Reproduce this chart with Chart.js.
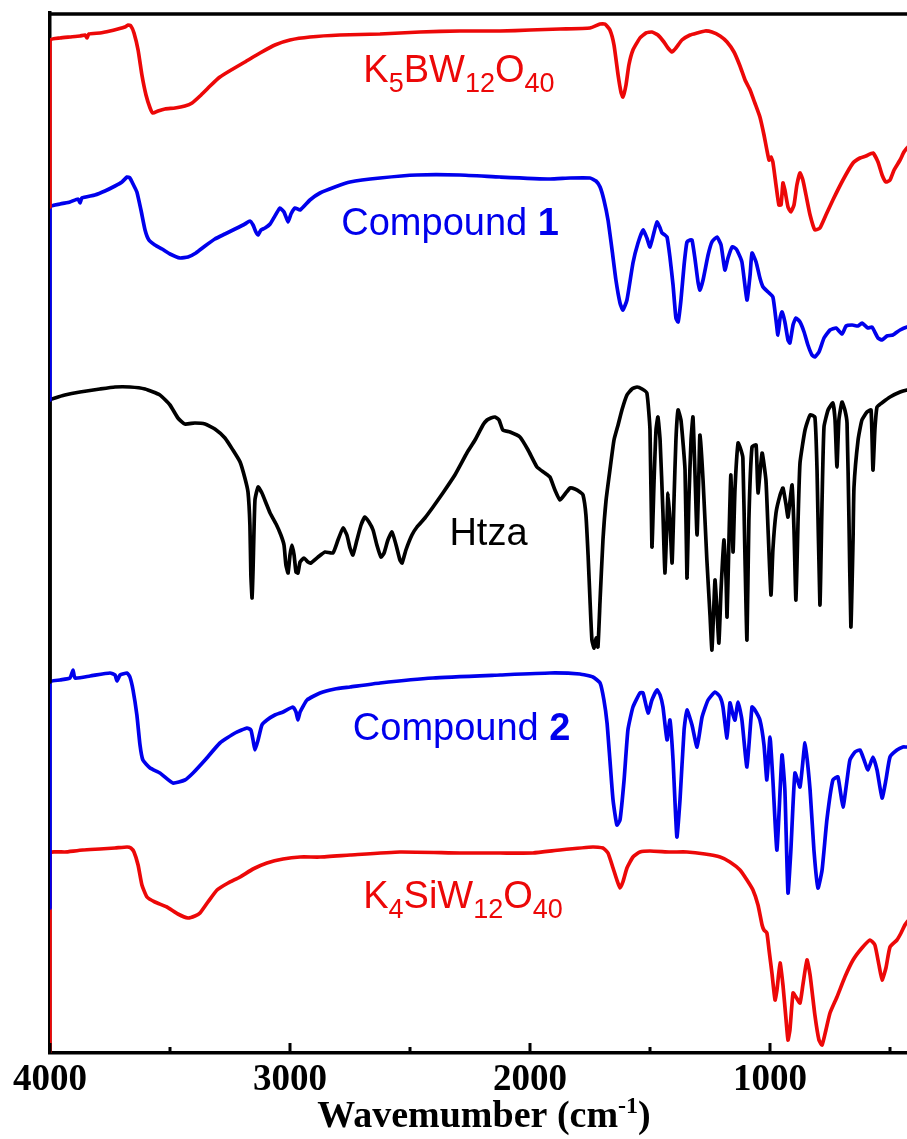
<!DOCTYPE html>
<html>
<head>
<meta charset="utf-8">
<script src="https://cdn.jsdelivr.net/npm/chart.js"></script>
<style>
  html, body { margin: 0; padding: 0; background: #fff; overflow: hidden; }
  canvas { display: block; }
</style>
</head>
<body>
<canvas id="ir" width="930" height="1139"></canvas>
<script>
// FT-IR spectra, stacked transmittance (a.u.) against wavenumber (cm-1).
// Each series: [wavenumber, offset transmittance]; the first pair is the
// edge segment at 4000 cm-1.
const k5bw = [[4000,84.6],[4000,101.3],[3958,101.5],[3917,101.6],[3875,101.7],[3854,101.8],[3846,101.5],[3838,101.9],[3792,102.0],[3750,102.2],[3717,102.4],[3688,102.6],[3675,102.8],[3663,102.7],[3650,102.0],[3633,100.3],[3617,97.8],[3600,95.8],[3583,94.5],[3571,94.0],[3550,94.2],[3521,94.4],[3479,94.5],[3438,94.7],[3408,95.0],[3375,95.7],[3333,96.7],[3292,97.6],[3238,98.4],[3188,99.1],[3125,100.0],[3063,100.8],[3000,101.3],[2917,101.6],[2792,101.8],[2625,101.9],[2458,102.1],[2292,102.2],[2125,102.2],[2000,102.3],[1875,102.4],[1750,102.5],[1708,102.9],[1688,102.9],[1667,102.3],[1650,100.8],[1633,97.8],[1621,96.1],[1613,95.6],[1600,96.8],[1588,98.8],[1571,100.3],[1542,101.5],[1517,102.0],[1492,102.1],[1467,101.8],[1442,101.1],[1425,100.5],[1408,100.1],[1392,100.5],[1367,101.3],[1333,101.8],[1304,102.0],[1271,102.2],[1242,102.1],[1208,101.7],[1179,101.1],[1150,100.1],[1125,98.7],[1104,97.3],[1083,96.3],[1063,95.0],[1042,93.6],[1025,91.8],[1013,90.3],[1004,89.3],[996,89.6],[988,89.1],[975,86.8],[963,84.8],[954,84.8],[946,87.0],[938,86.3],[925,84.6],[913,84.1],[900,84.8],[888,86.8],[875,88.0],[863,87.3],[850,85.8],[833,83.8],[813,82.3],[792,82.5],[767,83.8],[738,85.3],[696,87.3],[654,89.0],[625,89.5],[600,89.7],[571,90.0],[550,89.1],[533,87.8],[517,87.1],[500,87.3],[483,88.3],[458,89.3],[442,90.1],[429,90.5],[400,91.3]];

const compound1 = [[4000,65.3],[4000,84.6],[3958,84.9],[3917,85.1],[3883,85.4],[3875,85.0],[3867,85.5],[3813,85.8],[3771,86.2],[3729,86.7],[3700,87.1],[3679,87.6],[3667,87.5],[3654,86.9],[3638,86.1],[3621,84.3],[3604,82.3],[3588,81.3],[3563,80.8],[3533,80.4],[3500,79.9],[3458,79.5],[3425,79.6],[3392,80.0],[3354,80.7],[3313,81.4],[3271,81.9],[3229,82.4],[3188,82.9],[3167,83.2],[3154,82.8],[3142,82.1],[3133,81.8],[3121,82.3],[3104,82.5],[3083,82.9],[3058,83.9],[3042,84.5],[3025,84.1],[3008,83.1],[2996,83.9],[2979,84.5],[2958,84.3],[2917,85.3],[2875,86.0],[2813,86.6],[2750,87.1],[2625,87.5],[2471,87.8],[2292,87.8],[2125,87.6],[1917,87.4],[1833,87.5],[1750,87.5],[1725,87.2],[1708,86.6],[1692,85.3],[1675,83.3],[1658,80.3],[1642,77.3],[1625,75.0],[1613,74.3],[1596,75.3],[1571,79.0],[1550,81.0],[1529,82.3],[1513,81.5],[1500,80.6],[1483,82.1],[1471,83.1],[1458,82.5],[1450,82.0],[1438,81.8],[1429,81.6],[1417,79.6],[1404,76.8],[1392,73.5],[1383,73.1],[1371,75.3],[1358,78.8],[1346,81.1],[1333,81.3],[1325,81.3],[1313,79.5],[1300,77.1],[1292,76.3],[1279,77.3],[1258,79.8],[1242,81.1],[1221,81.6],[1204,80.8],[1188,78.3],[1175,79.5],[1158,80.6],[1146,80.5],[1138,80.3],[1117,79.1],[1096,75.3],[1083,77.8],[1075,80.0],[1058,79.1],[1042,77.5],[1029,76.6],[1008,76.1],[988,75.6],[975,73.3],[967,71.8],[958,73.5],[950,74.1],[938,73.1],[925,71.3],[917,71.0],[904,72.8],[892,73.5],[875,73.1],[858,72.1],[842,70.8],[825,69.8],[813,69.6],[796,70.1],[775,71.5],[750,72.3],[725,72.5],[700,71.9],[683,72.7],[658,72.8],[633,72.7],[617,73.0],[592,72.5],[575,72.6],[550,71.5],[533,71.3],[513,71.7],[488,71.8],[458,72.3],[429,72.6],[400,72.7]];

const htza = [[4000,37.1],[4000,65.3],[3979,65.5],[3938,65.8],[3875,66.1],[3792,66.4],[3729,66.6],[3667,66.6],[3604,66.4],[3542,65.8],[3500,64.8],[3467,63.5],[3438,62.9],[3396,63.0],[3354,62.9],[3313,62.4],[3271,61.5],[3238,60.3],[3208,59.1],[3188,57.5],[3175,56.1],[3167,52.8],[3163,47.8],[3158,45.5],[3154,48.3],[3146,55.3],[3133,56.6],[3117,56.0],[3100,55.0],[3083,54.0],[3058,52.9],[3038,51.8],[3025,50.8],[3017,48.8],[3008,48.0],[3000,49.8],[2992,50.8],[2983,49.8],[2975,48.1],[2967,48.0],[2958,49.1],[2942,49.5],[2925,49.1],[2913,49.0],[2883,49.6],[2854,50.1],[2821,50.0],[2800,51.3],[2779,52.5],[2763,51.8],[2750,50.5],[2738,49.8],[2721,51.3],[2704,52.8],[2688,53.6],[2671,53.1],[2654,52.3],[2638,50.8],[2621,49.6],[2608,50.0],[2592,51.3],[2575,52.1],[2558,50.8],[2542,49.3],[2533,49.0],[2517,50.3],[2492,51.8],[2471,52.6],[2438,53.5],[2404,54.6],[2363,56.0],[2313,57.8],[2263,60.0],[2229,61.3],[2196,62.8],[2179,63.3],[2163,63.5],[2146,63.6],[2129,63.3],[2113,62.3],[2083,62.1],[2042,61.6],[2008,60.3],[1971,58.6],[1938,58.0],[1917,57.6],[1896,56.3],[1875,55.3],[1854,55.9],[1833,56.5],[1813,56.4],[1792,56.1],[1779,55.8],[1767,53.8],[1758,49.8],[1750,45.3],[1742,41.3],[1733,40.5],[1725,41.5],[1717,40.6],[1708,45.3],[1696,51.3],[1683,55.3],[1667,58.3],[1650,61.3],[1633,62.8],[1617,64.3],[1596,65.8],[1575,66.4],[1554,66.6],[1533,66.4],[1513,66.0],[1500,62.3],[1492,50.6],[1483,57.3],[1475,62.3],[1467,63.6],[1458,61.3],[1446,54.0],[1438,48.0],[1429,53.3],[1425,56.0],[1417,53.3],[1408,49.0],[1400,55.3],[1392,61.3],[1383,64.3],[1371,63.3],[1354,58.3],[1346,47.5],[1338,55.3],[1329,61.3],[1321,63.6],[1313,58.3],[1304,51.8],[1296,58.3],[1292,61.8],[1279,57.3],[1263,49.3],[1250,43.8],[1242,40.3],[1233,45.3],[1229,47.3],[1221,44.3],[1213,41.0],[1204,46.3],[1192,51.3],[1183,47.3],[1179,43.6],[1171,51.3],[1163,57.8],[1154,50.1],[1146,56.3],[1133,61.0],[1121,60.3],[1113,59.5],[1104,49.3],[1096,41.3],[1088,53.3],[1075,60.6],[1058,60.8],[1050,56.0],[1033,60.0],[1017,57.3],[1008,52.3],[996,45.8],[988,50.3],[975,54.0],[958,55.8],[946,56.5],[933,54.8],[925,53.6],[908,56.8],[900,52.3],[892,45.3],[883,53.3],[875,59.0],[854,62.3],[833,63.8],[813,63.6],[804,58.3],[792,44.8],[783,55.3],[775,62.6],[758,64.3],[738,65.0],[729,63.3],[721,58.6],[713,63.3],[700,65.1],[688,64.3],[679,63.0],[671,53.3],[663,42.6],[654,51.3],[650,56.6],[633,61.3],[617,63.3],[596,64.1],[579,64.3],[571,58.3],[563,62.3],[554,64.6],[529,65.1],[500,65.6],[458,66.1],[429,66.3],[400,66.4]];

const compound2 = [[4000,14.5],[4000,37.1],[3958,37.3],[3917,37.5],[3904,38.3],[3896,37.5],[3833,37.7],[3750,38.0],[3729,37.8],[3721,37.2],[3708,37.8],[3679,38.0],[3667,37.6],[3654,36.3],[3638,33.8],[3625,30.8],[3613,29.3],[3583,28.5],[3542,28.0],[3488,27.0],[3438,27.3],[3404,28.0],[3354,29.3],[3292,31.0],[3229,32.0],[3179,32.5],[3163,32.3],[3154,31.3],[3146,30.3],[3133,31.3],[3117,32.8],[3096,33.3],[3063,33.8],[3029,34.1],[2988,34.6],[2975,34.1],[2967,33.3],[2958,34.1],[2929,35.3],[2875,36.0],[2813,36.4],[2750,36.6],[2625,37.0],[2404,37.5],[2125,37.8],[1917,38.0],[1792,37.9],[1738,37.6],[1708,37.0],[1692,35.3],[1679,33.0],[1667,29.3],[1654,25.3],[1638,22.8],[1625,23.3],[1608,27.3],[1592,32.3],[1571,34.6],[1542,36.0],[1529,36.0],[1508,34.0],[1492,35.3],[1471,36.3],[1458,35.8],[1446,34.6],[1429,31.3],[1417,33.3],[1404,29.3],[1388,21.6],[1375,25.3],[1358,32.3],[1346,34.3],[1325,32.8],[1304,30.6],[1283,33.6],[1258,35.3],[1229,36.1],[1208,35.6],[1196,34.6],[1179,31.5],[1167,35.0],[1154,33.8],[1146,33.3],[1133,35.1],[1117,33.3],[1096,28.6],[1075,34.6],[1063,34.3],[1042,33.3],[1025,30.8],[1013,27.3],[1000,31.6],[988,27.3],[971,20.3],[950,29.8],[938,26.3],[925,16.0],[913,20.3],[896,28.0],[875,26.6],[854,31.0],[833,26.3],[817,20.3],[800,16.5],[783,18.3],[763,23.3],[738,27.3],[717,27.6],[696,24.6],[679,27.3],[667,29.3],[646,30.1],[625,30.3],[608,29.3],[592,28.3],[571,29.6],[554,28.3],[533,25.5],[517,27.3],[500,29.6],[471,30.3],[446,30.6],[429,30.6],[400,30.8]];

const k4siw = [[4000,0],[4000,20.0],[3938,20.1],[3863,20.3],[3792,20.4],[3729,20.5],[3679,20.6],[3663,20.5],[3650,20.1],[3633,18.8],[3617,16.8],[3596,15.6],[3563,15.1],[3513,14.6],[3467,13.9],[3425,13.5],[3396,13.7],[3375,14.0],[3342,15.1],[3304,16.3],[3258,17.0],[3208,17.6],[3154,18.4],[3096,19.0],[3029,19.4],[2958,19.6],[2875,19.6],[2750,19.8],[2542,20.1],[2292,20.0],[2125,20.0],[1988,20.0],[1875,20.3],[1738,20.6],[1696,20.5],[1675,20.0],[1654,18.5],[1638,17.3],[1625,16.5],[1613,17.1],[1596,18.5],[1571,19.6],[1542,20.1],[1500,20.2],[1417,20.1],[1346,20.1],[1271,19.9],[1208,19.6],[1167,19.1],[1125,18.3],[1096,17.3],[1071,16.3],[1050,14.8],[1033,12.8],[1025,12.3],[1013,12.0],[1004,10.3],[992,8.0],[979,5.3],[971,6.3],[958,9.0],[946,6.8],[933,3.3],[925,1.3],[917,2.3],[904,6.0],[892,5.6],[875,5.0],[863,6.8],[846,9.3],[833,7.8],[813,3.8],[796,1.3],[783,0.8],[767,2.3],[750,4.0],[721,5.6],[688,7.6],[654,9.3],[617,10.5],[583,11.3],[563,10.8],[546,8.8],[533,7.3],[517,8.5],[500,10.6],[471,11.3],[454,12.0],[438,12.8],[429,13.1],[400,13.8]];

const majorTicks = [4000, 3000, 2000, 1000];
const tickLabels = ['4000', '3000', '2000', '1000'];
const minorTicks = [3500, 2500, 1500, 500];

const RED = 'rgb(236,8,8)';
const BLUE = 'rgb(0,0,236)';
const BLACK = '#000';

const series = [
  { points: k5bw, color: RED },
  { points: compound1, color: BLUE },
  { points: htza, color: BLACK },
  { points: compound2, color: BLUE },
  { points: k4siw, color: RED }
];

// Curve captions: text parts (plain / sub / bold), anchored at a wavenumber
// (horizontal centre) and a transmittance (baseline).
const captions = [
  { color: RED,   wn: 2296, t: 97.1, parts: [['K'], ['5', 'sub'], ['BW'], ['12', 'sub'], ['O'], ['40', 'sub']] },
  { color: BLUE,  wn: 2333, t: 81.8, parts: [['Compound '], ['1', 'bold']] },
  { color: BLACK, wn: 2173, t: 50.8, parts: [['Htza']] },
  { color: BLUE,  wn: 2285, t: 31.3, parts: [['Compound '], ['2', 'bold']] },
  { color: RED,   wn: 2279, t: 14.5, parts: [['K'], ['4', 'sub'], ['SiW'], ['12', 'sub'], ['O'], ['40', 'sub']] }
];

const SANS = '"Liberation Sans", Arial, sans-serif';
const SERIF = '"Liberation Serif", "Times New Roman", serif';

function drawParts(ctx, parts, cx, baseY, fontOf, shiftOf) {
  const widths = parts.map(p => { ctx.font = fontOf(p); return ctx.measureText(p[0]).width; });
  const total = widths.reduce((a, b) => a + b, 0);
  let xPos = cx - total / 2;
  ctx.textAlign = 'left';
  ctx.textBaseline = 'alphabetic';
  parts.forEach((p, i) => {
    ctx.font = fontOf(p);
    ctx.fillText(p[0], xPos, baseY + shiftOf(p));
    xPos += widths[i];
  });
}

const decor = {
  id: 'decor',
  afterDraw(chart) {
    const { ctx, chartArea: a, scales: { x, y } } = chart;
    ctx.save();
    ctx.strokeStyle = '#000';
    ctx.lineCap = 'butt';

    // top frame line
    ctx.lineWidth = 3.5;
    ctx.beginPath();
    ctx.moveTo(a.left - 1.75, a.top + 1);
    ctx.lineTo(a.right, a.top + 1);
    ctx.stroke();

    // inward tick marks on the wavenumber axis
    ctx.lineWidth = 3;
    const tick = (v, len) => {
      const px = x.getPixelForValue(v);
      ctx.beginPath();
      ctx.moveTo(px, a.bottom);
      ctx.lineTo(px, a.bottom - len);
      ctx.stroke();
    };
    majorTicks.forEach(v => tick(v, 10));
    minorTicks.forEach(v => tick(v, 6));

    // tick labels
    ctx.fillStyle = '#000';
    ctx.font = 'bold 37px ' + SERIF;
    ctx.textAlign = 'center';
    ctx.textBaseline = 'alphabetic';
    majorTicks.forEach((v, i) => ctx.fillText(tickLabels[i], x.getPixelForValue(v), a.bottom + 37));

    // axis title with superscript
    drawParts(ctx, [['Wavemumber (cm'], ['-1', 'sup'], [')']],
      (a.left + a.right) / 2 + 2, a.bottom + 74,
      p => p[1] === 'sup' ? 'bold 24px ' + SERIF : 'bold 38px ' + SERIF,
      p => p[1] === 'sup' ? -14 : 0);

    // curve captions
    captions.forEach(c => {
      ctx.fillStyle = c.color;
      drawParts(ctx, c.parts, x.getPixelForValue(c.wn), y.getPixelForValue(c.t),
        p => p[1] === 'sub' ? '27px ' + SANS : p[1] === 'bold' ? 'bold 38px ' + SANS : '38px ' + SANS,
        p => p[1] === 'sub' ? 10 : 0);
    });
    ctx.restore();
  }
};

new Chart(document.getElementById('ir'), {
  type: 'line',
  data: {
    datasets: series.map(s => ({
      data: s.points.map(([wn, t]) => ({ x: wn, y: t })),
      borderColor: s.color,
      borderWidth: 3.7,
      borderJoinStyle: 'round',
      borderCapStyle: 'round',
      pointRadius: 0,
      tension: 0.15,
      fill: false
    }))
  },
  options: {
    responsive: false,
    animation: false,
    devicePixelRatio: 1,
    layout: { padding: { left: 50, top: 13, right: 16, bottom: 86 } },
    plugins: { legend: { display: false }, tooltip: { enabled: false } },
    scales: {
      x: {
        type: 'linear', min: 400, max: 4000, reverse: true,
        ticks: { display: false },
        grid: { display: false, drawTicks: false },
        border: { display: true, color: '#000', width: 3.5 }
      },
      y: {
        type: 'linear', min: 0, max: 104,
        ticks: { display: false },
        grid: { display: false, drawTicks: false },
        border: { display: true, color: '#000', width: 3.5 }
      }
    }
  },
  plugins: [decor]
});
</script>
</body>
</html>
